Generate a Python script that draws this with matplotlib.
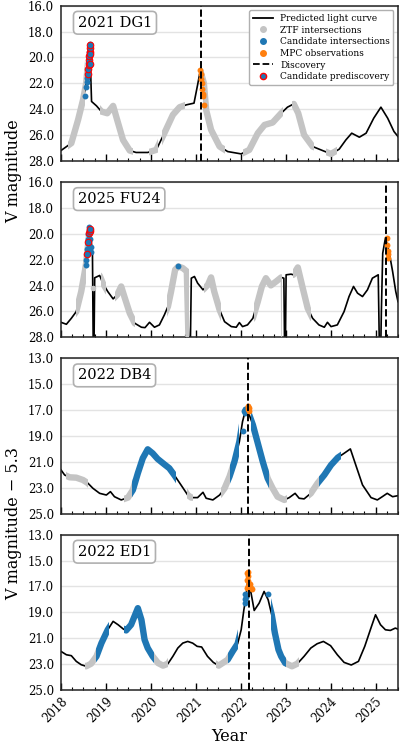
import numpy as np
import matplotlib
matplotlib.use("Agg")
import matplotlib.pyplot as plt
from matplotlib.lines import Line2D
from matplotlib.patches import Rectangle
from matplotlib.ticker import AutoMinorLocator, FormatStrFormatter

plt.rcParams['font.family'] = 'DejaVu Serif'

# ---- 2021 DG1 ----
dg1_year = [2018.0, 2018.23, 2018.38, 2018.49, 2018.56, 2018.64, 2018.68, 2018.79, 2018.90, 2019.03,
            2019.16, 2019.25, 2019.38, 2019.53, 2019.67, 2019.93, 2020.12, 2020.30, 2020.49, 2020.64,
            2020.79, 2020.96, 2021.04, 2021.10, 2021.18, 2021.23, 2021.34, 2021.53, 2021.71, 2022.01,
            2022.19, 2022.38, 2022.53, 2022.71, 2022.90, 2023.04, 2023.18, 2023.28, 2023.41, 2023.60,
            2023.82, 2024.01, 2024.19, 2024.34, 2024.47, 2024.64, 2024.79, 2024.96, 2025.12, 2025.27,
            2025.41, 2025.50]
dg1_mag = [27.19, 26.62, 24.82, 23.28, 21.99, 18.90, 23.40, 23.74, 24.18, 24.31,
           23.74, 24.82, 26.37, 27.19, 27.34, 27.34, 27.14, 25.85, 24.43, 23.84,
           23.66, 23.53, 22.12, 21.01, 21.99, 24.05, 25.59, 26.88, 27.27, 27.45,
           27.14, 25.85, 25.21, 25.03, 24.31, 23.84, 23.59, 24.31, 25.98, 26.88,
           27.19, 27.45, 27.09, 26.37, 25.85, 26.16, 25.85, 24.69, 23.84, 24.69,
           25.72, 26.11]
dg1_ztf = [(2018.16, 2018.53), (2018.86, 2019.60), (2019.96, 2020.15), (2020.24, 2020.77),
           (2021.17, 2021.66), (2022.04, 2022.93), (2023.13, 2023.62), (2023.90, 2024.15)]
dg1_cand_year = [2018.53, 2018.56, 2018.57, 2018.58, 2018.59, 2018.60, 2018.61, 2018.62, 2018.63, 2018.64, 2018.645]
dg1_cand_mag = [22.97, 22.3, 21.9, 21.6, 21.3, 20.9, 20.4, 20.0, 19.6, 19.2, 18.95]
dg1_pre_year = [2018.60, 2018.61, 2018.615, 2018.62, 2018.63, 2018.635, 2018.64, 2018.645, 2018.65, 2018.655]
dg1_pre_mag = [21.3, 20.9, 20.6, 20.2, 19.9, 19.6, 19.3, 19.0, 20.5, 19.7]
dg1_mpc_year = [2021.10, 2021.11, 2021.12, 2021.13, 2021.14, 2021.15, 2021.16, 2021.18]
dg1_mpc_mag = [21.0, 21.3, 21.7, 22.0, 22.4, 22.8, 23.0, 23.7]
dg1_disc = 2021.12

# ---- 2025 FU24 ----
fu24_year = [2018.0, 2018.12, 2018.23, 2018.34, 2018.45, 2018.53, 2018.56, 2018.64, 2018.70, 2018.725,
             2018.75, 2018.86, 2018.93, 2019.04, 2019.16, 2019.25, 2019.34, 2019.41, 2019.53, 2019.64,
             2019.79, 2019.87, 2019.97, 2020.08, 2020.19, 2020.30, 2020.38, 2020.45, 2020.54, 2020.61,
             2020.71, 2020.80, 2020.865, 2020.90, 2020.97, 2021.04, 2021.16, 2021.27, 2021.34, 2021.41,
             2021.53, 2021.64, 2021.79, 2021.90, 2021.97, 2022.04, 2022.15, 2022.27, 2022.38, 2022.47,
             2022.56, 2022.67, 2022.79, 2022.90, 2022.96, 2022.985, 2023.01, 2023.12, 2023.17, 2023.27,
             2023.38, 2023.49, 2023.60, 2023.74, 2023.86, 2023.93, 2024.01, 2024.15, 2024.30, 2024.41,
             2024.51, 2024.60, 2024.71, 2024.82, 2024.93, 2025.06, 2025.10, 2025.13, 2025.16, 2025.22,
             2025.30, 2025.38, 2025.45, 2025.50]
fu24_mag = [26.84, 26.99, 26.53, 26.01, 24.46, 22.91, 22.26, 19.55, 21.50, 32.0,
            23.40, 23.22, 23.81, 24.46, 25.03, 24.72, 24.07, 24.85, 26.14, 26.91,
            27.22, 27.25, 26.84, 27.22, 27.04, 26.27, 25.62, 24.46, 22.78, 22.52,
            22.65, 22.91, 32.0, 23.43, 23.30, 23.81, 24.33, 23.94, 23.37, 24.46,
            25.88, 26.79, 27.17, 27.22, 26.86, 27.17, 27.04, 26.53, 25.24, 24.07,
            23.43, 23.99, 23.68, 23.37, 23.43, 32.0, 23.17, 23.12, 23.17, 22.60,
            24.20, 25.75, 26.53, 27.04, 27.22, 26.84, 27.17, 27.04, 26.01, 24.85,
            24.07, 24.59, 24.85, 24.33, 23.43, 23.17, 32.0, 26.0, 21.5, 20.33,
            21.36, 22.91, 24.46, 25.24]
fu24_ztf = [(2018.34, 2018.56), (2018.90, 2019.01), (2019.21, 2019.65), (2020.36, 2020.84),
            (2021.19, 2021.56), (2022.30, 2022.91), (2023.16, 2023.56)]
fu24_ztf_year = [2018.71]
fu24_ztf_mag = [24.2]
fu24_cand_year = [2018.55, 2018.56, 2018.57, 2018.58, 2018.59, 2018.60, 2018.61, 2018.62, 2018.63, 2018.64,
                  2018.65, 2018.66, 2018.665, 2020.61]
fu24_cand_mag = [22.4, 22.0, 21.6, 21.2, 20.8, 20.4, 20.0, 19.7, 19.5, 19.6,
                 20.4, 21.0, 21.4, 22.5]
fu24_pre_year = [2018.585, 2018.61, 2018.63, 2018.645, 2018.655]
fu24_pre_mag = [21.55, 20.6, 19.95, 19.8, 19.6]
fu24_mpc_year = [2025.25, 2025.265, 2025.27, 2025.275, 2025.28]
fu24_mpc_mag = [20.33, 20.9, 21.3, 21.6, 21.9]
fu24_disc = 2025.24

# ---- 2022 DB4 ----
db4_year = [2018.0, 2018.08, 2018.19, 2018.34, 2018.49, 2018.60, 2018.71, 2018.86, 2019.01, 2019.10,
            2019.19, 2019.34, 2019.49, 2019.60, 2019.71, 2019.82, 2019.93, 2020.04, 2020.15, 2020.30,
            2020.41, 2020.53, 2020.67, 2020.82, 2020.90, 2021.04, 2021.16, 2021.23, 2021.38, 2021.53,
            2021.64, 2021.75, 2021.86, 2021.97, 2022.04, 2022.12, 2022.19, 2022.27, 2022.38, 2022.49,
            2022.60, 2022.71, 2022.82, 2022.97, 2023.08, 2023.21, 2023.30, 2023.41, 2023.56, 2023.71,
            2023.86, 2024.01, 2024.16, 2024.30, 2024.44, 2024.56, 2024.71, 2024.90, 2025.04, 2025.15,
            2025.26, 2025.38, 2025.50]
db4_mag = [21.62, 22.01, 22.19, 22.22, 22.40, 22.65, 23.04, 23.43, 23.56, 23.30,
           23.69, 23.94, 23.76, 23.17, 21.88, 20.72, 20.03, 20.34, 20.77, 21.19,
           21.49, 22.06, 22.78, 23.56, 23.76, 23.76, 23.35, 23.81, 23.94, 23.56,
           23.04, 22.14, 20.98, 19.43, 17.89, 16.80, 17.37, 18.14, 19.56, 20.98,
           22.27, 23.04, 23.69, 23.94, 23.76, 23.43, 23.81, 23.86, 23.43, 22.65,
           22.01, 21.24, 20.67, 20.34, 20.00, 21.24, 22.78, 23.76, 23.94, 23.69,
           23.43, 23.69, 23.61]
db4_ztf = [(2018.12, 2018.60), (2019.41, 2019.60), (2020.81, 2020.93), (2021.55, 2021.75),
           (2022.60, 2023.03), (2023.53, 2023.75)]
db4_cand = [(2019.58, 2020.56), (2021.75, 2021.97), (2022.23, 2022.64), (2023.75, 2024.23)]
db4_cand_year = [2022.04, 2022.08, 2022.09, 2022.10]
db4_cand_mag = [18.6, 17.1, 16.95, 17.2]
db4_mpc_year = [2022.155, 2022.165, 2022.17, 2022.18, 2022.175]
db4_mpc_mag = [16.75, 16.7, 16.9, 17.05, 16.85]
db4_disc = 2022.16

# ---- 2022 ED1 ----
ed1_year = [2018.0, 2018.12, 2018.23, 2018.34, 2018.45, 2018.56, 2018.67, 2018.79, 2018.90, 2019.04,
            2019.16, 2019.27, 2019.39, 2019.45, 2019.56, 2019.65, 2019.71, 2019.79, 2019.86, 2019.93,
            2020.04, 2020.16, 2020.27, 2020.38, 2020.49, 2020.60, 2020.71, 2020.82, 2020.93, 2021.03,
            2021.13, 2021.26, 2021.39, 2021.51, 2021.71, 2021.82, 2021.93, 2022.01, 2022.07, 2022.12,
            2022.16, 2022.23, 2022.30, 2022.41, 2022.52, 2022.61, 2022.69, 2022.76, 2022.84, 2022.90,
            2022.99, 2023.14, 2023.26, 2023.41, 2023.56, 2023.70, 2023.84, 2024.00, 2024.15, 2024.30,
            2024.46, 2024.62, 2024.76, 2024.91, 2025.00, 2025.11, 2025.22, 2025.33, 2025.44, 2025.50]
ed1_mag = [22.02, 22.28, 22.35, 22.79, 23.05, 23.17, 22.97, 22.40, 21.38, 20.35,
           19.70, 19.96, 20.30, 20.40, 19.96, 19.19, 18.68, 19.58, 21.12, 21.76,
           22.40, 22.92, 23.12, 22.97, 22.40, 21.76, 21.38, 21.25, 21.38, 21.63,
           21.68, 22.40, 22.87, 23.12, 22.66, 22.02, 21.43, 20.35, 18.80, 17.78,
           16.36, 17.52, 18.86, 18.29, 17.39, 18.03, 19.19, 20.60, 21.89, 22.40,
           22.92, 23.17, 22.97, 22.40, 21.76, 21.43, 21.25, 21.58, 22.28, 22.87,
           23.07, 22.79, 21.63, 20.09, 19.19, 19.96, 20.35, 20.40, 20.22, 20.30]
ed1_ztf = [(2018.53, 2018.79), (2020.07, 2020.38), (2021.45, 2021.71), (2022.99, 2023.30)]
ed1_cand = [(2018.79, 2019.06), (2019.41, 2020.08), (2021.71, 2021.93), (2022.67, 2023.00)]
ed1_cand_year = [2022.09, 2022.10, 2022.10, 2022.11, 2022.61]
ed1_cand_mag = [18.3, 18.0, 17.6, 17.8, 17.6]
ed1_mpc_year = [2022.14, 2022.15, 2022.16, 2022.17, 2022.17, 2022.18, 2022.16, 2022.20, 2022.22, 2022.25, 2022.15]
ed1_mpc_mag = [16.5, 16.0, 15.85, 16.2, 16.6, 17.0, 17.0, 16.8, 17.1, 17.2, 17.1]
ed1_disc = 2022.18

names = ['2021 DG1', '2025 FU24', '2022 DB4', '2022 ED1']
ylims = [(28, 16), (28, 16), (25, 13), (25, 13)]
yticks = [[16, 18, 20, 22, 24, 26, 28], [16, 18, 20, 22, 24, 26, 28],
          [13, 15, 17, 19, 21, 23, 25], [13, 15, 17, 19, 21, 23, 25]]
years = list(range(2018, 2026))

GRAY = '#c4c4c4'
BLUE = '#1f77b4'
ORANGE = '#ff7f0e'


def band(ax, x, y, intervals, color):
    # thick line following the curve, clipped to each date range (and to the axes box)
    lo, hi = sorted(ax.get_ylim())
    for a, b in intervals:
        ln, = ax.plot(x, y, color=color, lw=4.6, solid_capstyle='butt', zorder=3)
        rect = Rectangle((a, lo), b - a, hi - lo, transform=ax.transData)
        ln.set_clip_path(rect)


def panel(ax, name, lim, x, y, ztf, disc, cand=None, cand_x=None, cand_y=None,
          mpc_x=None, mpc_y=None, pre_x=None, pre_y=None, ztf_x=None, ztf_y=None):
    ax.set_xlim(2018, 2025.5)
    ax.set_ylim(*lim)
    ax.plot(x, y, color='k', lw=1.2, zorder=2)
    band(ax, x, y, ztf, GRAY)
    if ztf_x is not None:
        ax.scatter(ztf_x, ztf_y, s=16, color=GRAY, zorder=3, lw=0)
    if cand is not None:
        band(ax, x, y, cand, BLUE)
    if cand_x is not None:
        ax.scatter(cand_x, cand_y, s=18, color=BLUE, zorder=4, lw=0)
    if pre_x is not None:
        ax.scatter(pre_x, pre_y, s=22, color=BLUE, edgecolor='red', lw=0.8, zorder=5)
    ax.scatter(mpc_x, mpc_y, s=18, color=ORANGE, zorder=6, lw=0)
    ax.axvline(disc, color='k', ls='--', lw=1.4, zorder=7)
    ax.text(0.05, 0.89, name, transform=ax.transAxes, fontsize=10.5, va='center', ha='left',
            bbox=dict(boxstyle='round,pad=0.3', fc='white', ec='#b0b0b0', lw=1.2), zorder=10)


fig, axes = plt.subplots(4, 1, figsize=(4, 7.46), dpi=100, sharex=True)
fig.subplots_adjust(left=0.1525, right=0.995, top=0.9924, bottom=0.0751, hspace=0.135)

panel(axes[0], names[0], ylims[0], dg1_year, dg1_mag, dg1_ztf, dg1_disc,
      cand_x=dg1_cand_year, cand_y=dg1_cand_mag, mpc_x=dg1_mpc_year, mpc_y=dg1_mpc_mag,
      pre_x=dg1_pre_year, pre_y=dg1_pre_mag)
panel(axes[1], names[1], ylims[1], fu24_year, fu24_mag, fu24_ztf, fu24_disc,
      cand_x=fu24_cand_year, cand_y=fu24_cand_mag, mpc_x=fu24_mpc_year, mpc_y=fu24_mpc_mag,
      pre_x=fu24_pre_year, pre_y=fu24_pre_mag, ztf_x=fu24_ztf_year, ztf_y=fu24_ztf_mag)
panel(axes[2], names[2], ylims[2], db4_year, db4_mag, db4_ztf, db4_disc, cand=db4_cand,
      cand_x=db4_cand_year, cand_y=db4_cand_mag, mpc_x=db4_mpc_year, mpc_y=db4_mpc_mag)
panel(axes[3], names[3], ylims[3], ed1_year, ed1_mag, ed1_ztf, ed1_disc, cand=ed1_cand,
      cand_x=ed1_cand_year, cand_y=ed1_cand_mag, mpc_x=ed1_mpc_year, mpc_y=ed1_mpc_mag)

for ax, ticks in zip(axes, yticks):
    ax.set_yticks(ticks)
    ax.yaxis.set_major_formatter(FormatStrFormatter('%.1f'))
    ax.set_xticks(years)
    ax.xaxis.set_minor_locator(AutoMinorLocator(4))
    ax.yaxis.grid(True, color='#e3e3e3', lw=1.0)
    ax.set_axisbelow(True)
    ax.tick_params(axis='x', which='major', direction='in', length=5, width=1, labelsize=8.5)
    ax.tick_params(axis='x', which='minor', direction='in', length=2.5, width=0.8)
    ax.tick_params(axis='y', length=0, pad=5, labelsize=8.5)
    for s in ax.spines.values():
        s.set_color('#222222')
        s.set_linewidth(1.1)

axes[3].set_xticklabels([str(v) for v in years], rotation=45, ha='right',
                        rotation_mode='anchor')
axes[3].set_xlabel('Year', fontsize=11.5, labelpad=2)

handles = [Line2D([], [], color='k', lw=1.3),
           Line2D([], [], marker='o', ls='', color=GRAY, markersize=4),
           Line2D([], [], marker='o', ls='', color=BLUE, markersize=4),
           Line2D([], [], marker='o', ls='', color=ORANGE, markersize=4),
           Line2D([], [], color='k', ls='--', lw=1.3),
           Line2D([], [], marker='o', ls='', color=BLUE, markeredgecolor='red', markersize=4.5)]
labels = ['Predicted light curve', 'ZTF intersections', 'Candidate intersections',
          'MPC observations', 'Discovery', 'Candidate prediscovery']
axes[0].legend(handles, labels, loc='upper right', fontsize=6.5, framealpha=1,
               edgecolor='#b0b0b0', handlelength=2.2, borderpad=0.4, labelspacing=0.3)

fig.text(0.035, 0.770, 'V magnitude', rotation=90, va='center', ha='center', fontsize=11.5)
fig.text(0.035, 0.2976, 'V magnitude \u2212 5.3', rotation=90, va='center', ha='center', fontsize=11.5)

fig.savefig('out.png', dpi=100)
